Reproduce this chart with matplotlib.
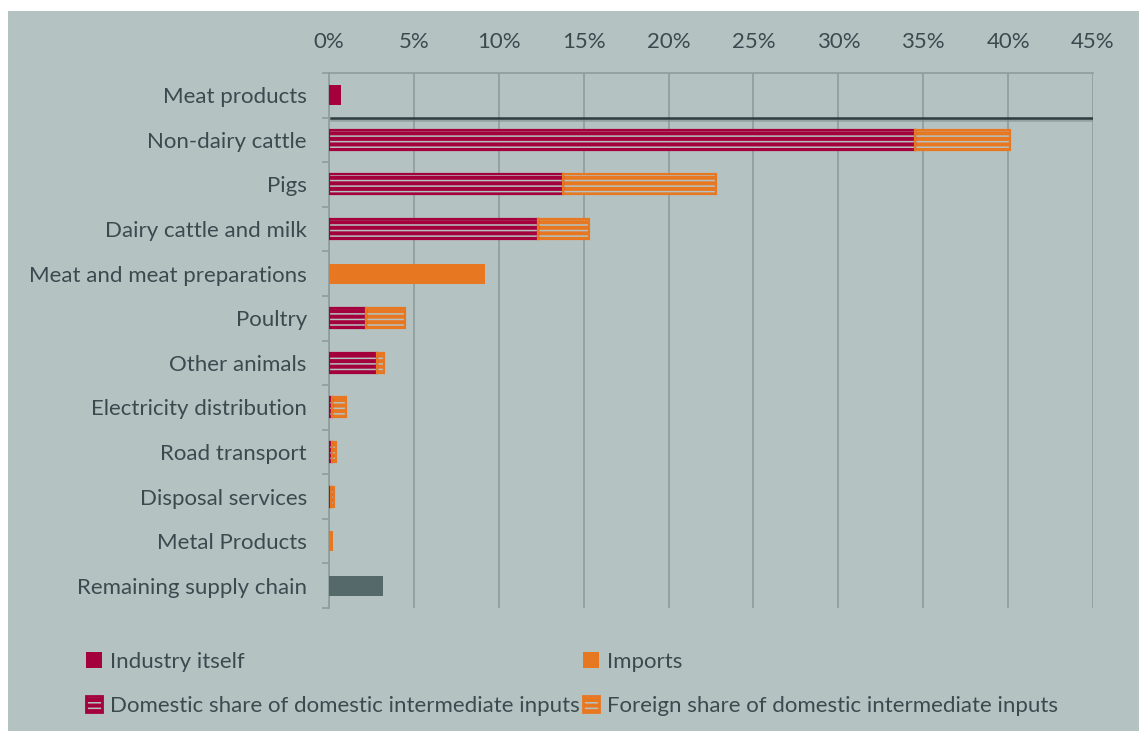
import matplotlib.pyplot as plt
import matplotlib.patheffects as pe
from matplotlib.patches import Patch, Rectangle
from matplotlib.legend_handler import HandlerTuple

plt.rcParams['font.family'] = ['Lato', 'DejaVu Sans']
plt.rcParams['hatch.linewidth'] = 1.1

categories = ['Meat products', 'Non-dairy cattle', 'Pigs', 'Dairy cattle and milk',
              'Meat and meat preparations', 'Poultry', 'Other animals',
              'Electricity distribution', 'Road transport', 'Disposal services',
              'Metal Products', 'Remaining supply chain']
industry = [0.7, 0, 0, 0, 0, 0, 0, 0, 0, 0, 0, 0]
imports = [0, 0, 0, 0, 9.2, 0, 0, 0, 0, 0, 0.25, 0]
domestic = [0, 34.5, 13.8, 12.3, 0, 2.2, 2.8, 0.2, 0.2, 0.1, 0, 0]
foreign = [0, 5.6, 9.0, 3.0, 0, 2.3, 0.45, 0.8, 0.2, 0.2, 0, 0]
remaining = [0, 0, 0, 0, 0, 0, 0, 0, 0, 0, 0, 3.2]
xticks = [0, 5, 10, 15, 20, 25, 30, 35, 40, 45]
xticklabels = ['0%', '5%', '10%', '15%', '20%', '25%', '30%', '35%', '40%', '45%']

bg = '#B4C3C2'
red = '#A3003C'
orange = '#E87722'
slate = '#56696A'
txt = '#3B4A4F'
grid = '#8F9C9C'
fs = 16

fig = plt.figure(figsize=(11.39, 7.31), dpi=100)
fig.patch.set_facecolor('white')
fig.add_artist(Rectangle((8 / 1139, 0), 1, 1 - 11 / 731, transform=fig.transFigure,
                         facecolor=bg, edgecolor='none', zorder=0))
ax = fig.add_axes([329 / 1139, 1 - 608 / 731, (1093 - 329) / 1139, (608 - 73) / 731])
ax.set_facecolor(bg)

y = list(range(len(categories)))
h = 0.45


def hatched(left, width, color):
    # hatch lines in the background colour, then a solid outline on top
    rows = [i for i in y if width[i] > 0]
    w = [width[i] for i in rows]
    l = [left[i] for i in rows]
    ax.barh(rows, w, left=l, height=h, color=color, edgecolor=bg, hatch='---',
            linewidth=0, zorder=3)
    ax.barh(rows, w, left=l, height=h, fill=False, edgecolor=color,
            linewidth=1.6, zorder=4)


left = [0] * len(y)
ax.barh(y, industry, left=left, height=h, color=red, zorder=3)
left = [a + b for a, b in zip(left, industry)]
ax.barh(y, imports, left=left, height=h, color=orange, zorder=3)
left = [a + b for a, b in zip(left, imports)]
hatched(left, domestic, red)
left = [a + b for a, b in zip(left, domestic)]
hatched(left, foreign, orange)
left = [a + b for a, b in zip(left, foreign)]
ax.barh(y, remaining, left=left, height=h, color=slate, zorder=3)

# separator under the industry's own row
ax.axhline(0.5, xmin=0.003, color='#2E3C42', linewidth=1.8, zorder=5,
           path_effects=[pe.SimpleLineShadow(offset=(0, -2), shadow_color='#7E8C8C', alpha=0.6),
                         pe.Normal()])

ax.set_xlim(0, 45)
ax.set_ylim(len(y) - 0.5, -0.5)
ax.xaxis.tick_top()
ax.set_xticks(xticks)
ax.set_xticklabels(xticklabels)
ax.tick_params(axis='x', length=0, pad=15, labelsize=fs, labelcolor=txt)
ax.set_yticks(y)
ax.set_yticklabels(categories)
ax.tick_params(axis='y', which='major', length=0, pad=16, labelsize=fs, labelcolor=txt)
ax.set_yticks([i - 0.5 for i in range(len(y) + 1)], minor=True)
ax.tick_params(axis='y', which='minor', length=5, width=1.2, color=grid)
ax.grid(axis='x', color=grid, linewidth=1.2, zorder=1)
ax.set_axisbelow(True)
for s in ['right', 'bottom']:
    ax.spines[s].set_visible(False)
for s in ['top', 'left']:
    ax.spines[s].set_color(grid)
    ax.spines[s].set_linewidth(1.2)

h_ind = Patch(facecolor=red, edgecolor='none')
h_imp = Patch(facecolor=orange, edgecolor='none')
h_dom = (Patch(facecolor=red, edgecolor=bg, hatch='---', linewidth=0),
         Patch(fill=False, edgecolor=red, linewidth=2))
h_for = (Patch(facecolor=orange, edgecolor=bg, hatch='---', linewidth=0),
         Patch(fill=False, edgecolor=orange, linewidth=2))
fig.legend([h_ind, h_dom, h_imp, h_for],
           ['Industry itself', 'Domestic share of domestic intermediate inputs',
            'Imports', 'Foreign share of domestic intermediate inputs'],
           handler_map={tuple: HandlerTuple(ndivide=1, pad=0)},
           ncol=2, loc='upper left', bbox_to_anchor=(86 / 1139, 1 - 652 / 731),
           frameon=False, fontsize=fs, labelcolor=txt, handlelength=0.72,
           handleheight=0.72, handletextpad=0.35, columnspacing=0.15, labelspacing=1.08,
           borderpad=0, borderaxespad=0)

fig.savefig('out.png', dpi=100, facecolor=fig.get_facecolor())
